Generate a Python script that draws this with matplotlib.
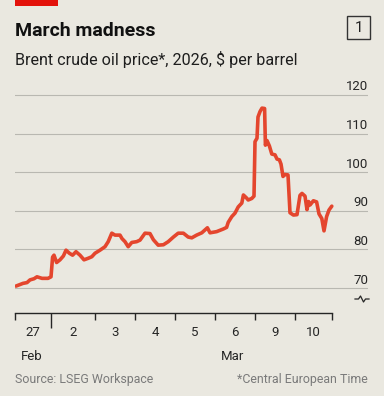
import matplotlib
matplotlib.use("Agg")
import matplotlib.pyplot as plt
import matplotlib.transforms as mtransforms
from matplotlib.patches import Rectangle
from matplotlib.lines import Line2D

# ---- data (x in trading-day units from start of 27 Feb, CET) ----
t = [0.025, 0.125, 0.2, 0.3, 0.375, 0.475, 0.55, 0.675, 0.825, 0.9,
     0.94, 0.975, 1.04, 1.125, 1.21, 1.275, 1.36, 1.44, 1.525, 1.625,
     1.725, 1.83, 1.92, 2.0, 2.125, 2.25, 2.33, 2.42, 2.5, 2.625,
     2.675, 2.75, 2.83, 2.92, 3.04, 3.125, 3.25, 3.375, 3.46, 3.58,
     3.71, 3.83, 3.96, 4.08, 4.21, 4.33, 4.42, 4.54, 4.67, 4.81,
     4.875, 5.04, 5.21, 5.29, 5.33, 5.42, 5.5, 5.58, 5.67, 5.71,
     5.79, 5.83, 5.92, 5.975, 6.0, 6.05, 6.075, 6.125, 6.175, 6.24,
     6.26, 6.3, 6.36, 6.42, 6.5, 6.55, 6.61, 6.65, 6.7, 6.75,
     6.825, 6.875, 6.96, 7.05, 7.125, 7.175, 7.25, 7.3, 7.34, 7.375,
     7.46, 7.54, 7.6, 7.67, 7.725, 7.79, 7.85, 7.92]
price = [70.5, 70.9, 71.2, 71.4, 72.1, 72.4, 72.9, 72.5, 72.5, 72.9,
         78.0, 78.5, 76.6, 77.3, 78.3, 79.8, 79.0, 78.5, 79.4, 78.5,
         77.3, 77.7, 78.1, 79.0, 79.8, 80.7, 82.0, 84.2, 83.7, 83.7,
         82.8, 82.0, 80.7, 81.8, 82.0, 82.4, 84.2, 84.1, 82.5, 81.1,
         81.2, 82.0, 83.2, 84.2, 84.2, 83.2, 83.0, 83.7, 84.3, 85.6,
         84.3, 84.6, 85.3, 85.7, 87.0, 88.5, 89.4, 91.0, 92.0, 94.1,
         93.3, 92.8, 93.2, 93.8, 107.9, 108.8, 114.3, 115.7, 116.6, 116.5,
         107.0, 108.2, 106.8, 104.7, 104.5, 103.4, 103.2, 102.1, 98.9, 99.4,
         99.3, 89.5, 88.9, 89.0, 94.0, 94.5, 93.8, 90.3, 92.4, 91.5,
         92.6, 92.3, 89.2, 88.0, 84.8, 88.5, 90.2, 91.2]

day_bounds = [0.0, 0.9, 2.0, 3.0, 4.0, 5.0, 6.0, 7.0, 7.925]
day_labels = ["27", "2", "3", "4", "5", "6", "9", "10"]
month_labels = ["Feb", "Mar"]
month_start_idx = [0, 5]
y_ticks = [70, 80, 90, 100, 110, 120]

BG = "#eae8e0"
RED = "#e4462e"
DARK = "#262626"
GRID = "#b9b8b1"
FONT = "Roboto"

W, H = 384, 396
fig = plt.figure(figsize=(W / 100, H / 100), dpi=100, facecolor=BG)

def fx(px):
    return px / W

def fy(py):
    return 1 - py / H

# axes: x 15..368 px, y 93..313 px
ax_left, ax_right, ax_top, ax_bot = 15, 368, 93, 313
ax = fig.add_axes([fx(ax_left), fy(ax_bot), fx(ax_right - ax_left), (ax_bot - ax_top) / H])
ax.set_facecolor(BG)
px_per_day = 40.0
ax.set_xlim(0, (ax_right - ax_left) / px_per_day)
ppu = 3.86
ax.set_ylim(70 - (ax_bot - 288) / ppu, 120 + (95 - ax_top) / ppu)

for v in y_ticks:
    ax.axhline(v, color=GRID, lw=0.8, zorder=1)

ax.plot(t, price, color=RED, lw=2.6, solid_joinstyle="round", solid_capstyle="round", zorder=3)

for s in ["top", "right", "left"]:
    ax.spines[s].set_visible(False)
ax.spines["bottom"].set_bounds(day_bounds[0], day_bounds[-1])
ax.spines["bottom"].set_color(DARK)
ax.spines["bottom"].set_linewidth(1.0)
ax.set_yticks([])
ends = [day_bounds[0], day_bounds[-1]]
inner = [b for b in day_bounds[2:-1]]
ax.set_xticks(ends + inner)
ax.set_xticklabels([])
ax.set_xticks([day_bounds[1]], minor=True)
ax.tick_params(axis="x", which="major", direction="out", length=5, width=1.0, color=DARK)
ax.tick_params(axis="x", which="minor", direction="out", length=11, width=1.0, color=DARK)

# y labels above gridlines at right
trans_y = mtransforms.offset_copy(ax.get_yaxis_transform(), fig=fig, x=0, y=4.5, units="dots")
for v in y_ticks:
    ax.text(1.0, v, str(v), transform=trans_y, ha="right", va="baseline",
            fontsize=9.5, family=FONT, color=DARK)

# x day labels
xtrans = mtransforms.blended_transform_factory(ax.transData, fig.transFigure)
for i, lab in enumerate(day_labels):
    c = (day_bounds[i] + day_bounds[i + 1]) / 2
    ax.text(c, fy(336.5), lab, transform=xtrans, ha="center", va="baseline",
            fontsize=9.5, family=FONT, color=DARK)
month_off = mtransforms.offset_copy(xtrans, fig=fig, x=5.5, y=0, units="dots")
for lab, idx in zip(month_labels, month_start_idx):
    ax.text(day_bounds[idx], fy(360.5), lab, transform=month_off, ha="left", va="baseline",
            fontsize=9.5, family=FONT, color=DARK)

# axis break symbol under 70
xs = [355, 358.5, 360.5, 363.5, 365.5, 369]
ys = [299, 299, 296, 302, 299, 299]
fig.add_artist(Line2D([fx(x) for x in xs], [fy(y) for y in ys], transform=fig.transFigure,
                      color=DARK, lw=0.9))

# header
fig.add_artist(Rectangle((fx(15), fy(6)), fx(43), 6 / H, transform=fig.transFigure,
                         facecolor="#e3120b", edgecolor="none"))
fig.text(fx(15), fy(36), "March madness", fontsize=14, fontweight="bold", family=FONT,
         color="#111111", va="baseline", ha="left")
fig.text(fx(15), fy(65), "Brent crude oil price*, 2026, $ per barrel", fontsize=11.6,
         family=FONT, color="#1e1e1e", va="baseline", ha="left")
fig.add_artist(Rectangle((fx(347), fy(39)), fx(23), 23 / H, transform=fig.transFigure,
                         facecolor="none", edgecolor="#333333", lw=1.0))
fig.text(fx(358.5), fy(27.5), "1", fontsize=11, family=FONT, color="#222222",
         ha="center", va="center")

# footer
fig.text(fx(15), fy(383.3), "Source: LSEG Workspace", fontsize=8.9, family=FONT,
         color="#7a7a7a", va="baseline", ha="left")
fig.text(fx(368), fy(383.3), "*Central European Time", fontsize=8.9, family=FONT,
         color="#7a7a7a", va="baseline", ha="right")

fig.savefig("out.png", dpi=100, facecolor=BG)
